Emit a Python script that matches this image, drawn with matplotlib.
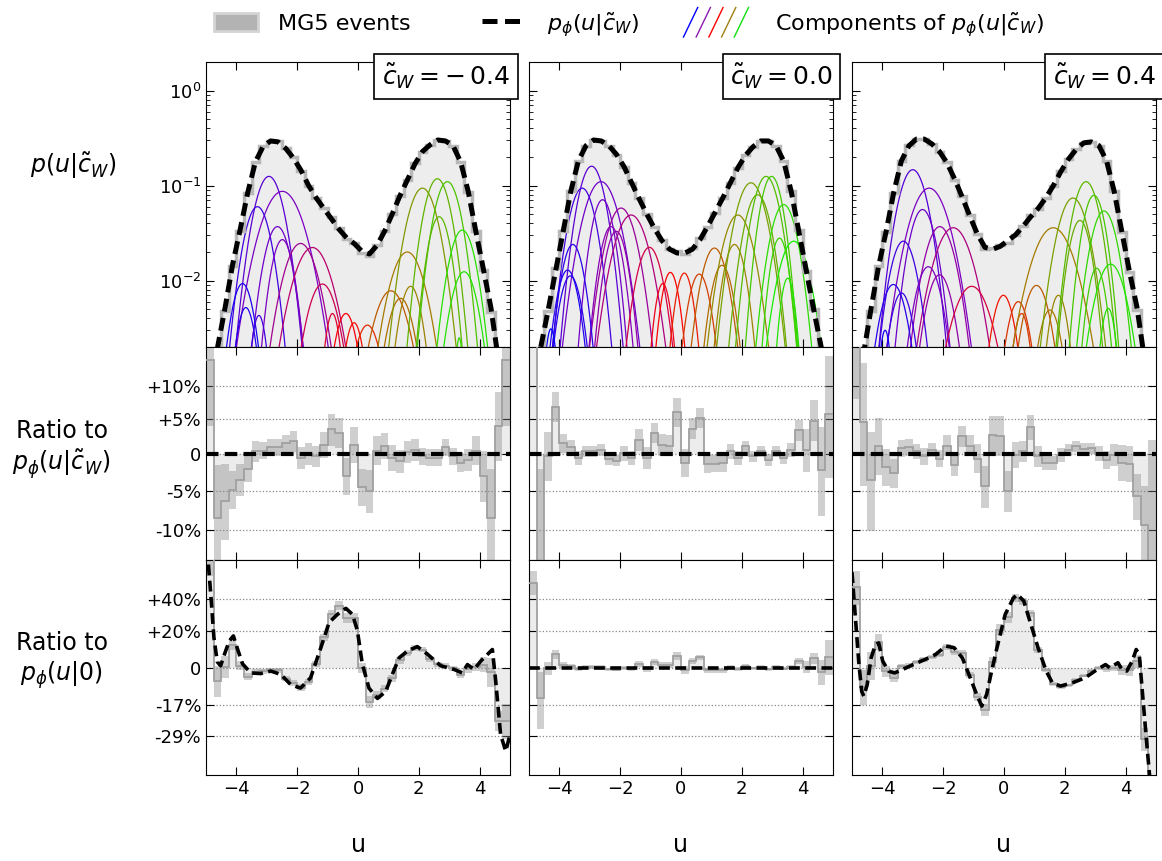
import numpy as np
import matplotlib
matplotlib.use("Agg")
import matplotlib.pyplot as plt
from matplotlib.colors import LinearSegmentedColormap, Normalize
from matplotlib.legend_handler import HandlerBase
from matplotlib.lines import Line2D
from matplotlib.patches import Patch
from matplotlib.ticker import LogLocator, NullLocator, NullFormatter

# ---------------- data ----------------
bin_edges = np.linspace(-5, 5, 41)
bin_centres = 0.5 * (bin_edges[1:] + bin_edges[:-1])

panel_labels = [r"$\tilde{c}_W = {-\,0.4}$", r"$\tilde{c}_W = 0.0$", r"$\tilde{c}_W = 0.4$"]

# log10 of the model density p_phi(u|c) at the bin centres
logp_m04 = [-2.92, -2.71, -2.29, -1.83, -1.46, -1.07, -0.75, -0.59, -0.53, -0.54,
            -0.61, -0.71, -0.84, -1.00, -1.13, -1.24, -1.35, -1.46, -1.55, -1.61,
            -1.69, -1.72, -1.63, -1.48, -1.30, -1.11, -0.94, -0.77, -0.64, -0.57,
            -0.52, -0.53, -0.58, -0.75, -1.06, -1.48, -1.88, -2.29, -2.85, -3.27]
logp_0 = [-3.10, -2.72, -2.32, -1.90, -1.48, -1.06, -0.74, -0.58, -0.52, -0.53,
          -0.58, -0.67, -0.80, -0.97, -1.14, -1.30, -1.45, -1.58, -1.67, -1.71,
          -1.71, -1.67, -1.57, -1.43, -1.28, -1.13, -0.97, -0.81, -0.68, -0.59,
          -0.53, -0.53, -0.58, -0.74, -1.06, -1.48, -1.90, -2.32, -2.72, -3.10]
logp_p04 = [-3.00, -2.78, -2.30, -1.85, -1.48, -1.07, -0.74, -0.58, -0.51, -0.51,
            -0.56, -0.64, -0.76, -0.93, -1.12, -1.32, -1.51, -1.65, -1.67, -1.64,
            -1.58, -1.52, -1.43, -1.33, -1.24, -1.13, -1.00, -0.85, -0.72, -0.62,
            -0.55, -0.54, -0.58, -0.74, -1.06, -1.48, -1.90, -2.28, -2.83, -3.37]

# MG5 events / model, per bin, in percent, and the error band half width
mg5_pct_m04 = [14, -8.5, -6.3, -4.8, -3.5, -2.0, 0.4, 0.5, 1.0, 1.0,
               1.5, 1.8, -0.5, 0.0, -0.3, 1.3, 3.5, 3.0, -3.0, 1.3,
               -4.5, -5.0, 0.5, 1.2, -0.5, -1.0, 0.3, 0.6, -0.3, -0.5,
               -0.5, 1.0, -0.3, -1.2, -0.8, 0.5, -3.0, -8.5, 4.0, 14]
mg5_err_m04 = [10, 7, 5, 2.5, 2.2, 1.8, 1.5, 1.2, 1.2, 1.2,
               1.2, 1.5, 1.5, 1.5, 1.5, 1.8, 2.3, 2.2, 2.5, 2.5,
               2.5, 2.8, 2.0, 1.8, 1.8, 1.6, 1.5, 1.5, 1.2, 1.2,
               1.2, 1.2, 1.2, 1.3, 1.5, 2.0, 3.5, 6.5, 5.0, 10]
mg5_pct_0 = [52, -14, -0.3, 6.8, 1.5, 1.0, -0.5, 0.4, 0.4, 0.6,
             -0.7, -0.9, 0.1, -0.5, 2.0, -0.5, 3.0, 1.3, 1.2, 6.0,
             -1.2, 3.6, 5.2, -1.3, -1.3, -1.2, 0.4, -0.5, 1.1, -0.3,
             0.4, -0.8, 0.4, -0.5, 0.6, 3.4, 0.6, 4.8, -2.2, 5.7]
mg5_err_0 = [9, 12, 3.4, 2.2, 1.4, 1.0, 1.0, 0.8, 0.8, 0.8,
             0.8, 0.8, 1.0, 1.0, 1.5, 1.5, 1.5, 1.5, 1.5, 2.2,
             1.9, 1.5, 1.5, 1.3, 1.2, 1.2, 1.0, 1.0, 0.8, 0.8,
             0.8, 0.8, 0.8, 0.8, 1.0, 1.5, 3.0, 3.0, 6.0, 9.0]
mg5_pct_p04 = [18, 4.6, -3.5, 1.1, -1.8, -2.6, 0.8, 1.0, 0.4, -0.3,
               0.6, -0.6, 1.2, -1.5, 2.5, 1.2, -0.6, -4.4, 2.7, 2.6,
               -5.0, -0.1, 0.4, 3.8, -0.3, -1.2, -1.2, -0.1, 0.6, 1.1,
               0.7, 0.8, 0.1, -0.8, -0.1, -1.2, -1.3, -5.7, -9.4, -14]
mg5_err_p04 = [10, 9, 6.7, 4, 2.5, 2, 1.2, 1.2, 1.0, 1.2,
               1.0, 1.2, 1.5, 1.5, 1.5, 1.5, 2.0, 2.8, 2.8, 2.8,
               2.7, 1.8, 1.5, 1.8, 1.5, 1.0, 1.0, 1.0, 0.8, 0.8,
               0.8, 0.8, 1.0, 1.2, 1.5, 2.5, 2.5, 3.0, 5.0, 16]

# model ratio p_phi(u|c) / p_phi(u|0) (dashed curves of the bottom row)
u_ratio_m04 = [-5.0, -4.93, -4.82, -4.74, -4.63, -4.52, -4.39, -4.24, -4.10, -3.97,
               -3.80, -3.53, -3.20, -2.87, -2.54, -2.21, -1.89, -1.56, -1.23, -0.95,
               -0.68, -0.40, -0.18, -0.02, 0.14, 0.36, 0.64, 0.91, 1.13, 1.35,
               1.62, 1.95, 2.28, 2.72, 3.16, 3.43, 3.60, 3.82, 4.04, 4.42,
               4.53, 4.69, 4.86, 5.0]
ratio_m04 = [1.95, 1.69, 1.37, 1.16, 1.03, 1.01, 1.07, 1.14, 1.17, 1.10,
             1.02, 0.975, 0.972, 0.984, 0.968, 0.92, 0.905, 0.952, 1.10, 1.25,
             1.30, 1.34, 1.30, 1.20, 1.02, 0.905, 0.86, 0.89, 0.968, 1.05,
             1.085, 1.11, 1.07, 1.01, 0.992, 0.975, 1.016, 0.992, 1.034, 1.094,
             0.936, 0.72, 0.663, 0.72]
u_ratio_p04 = [-5.0, -4.88, -4.77, -4.68, -4.61, -4.50, -4.37, -4.23, -4.12, -3.99,
               -3.80, -3.60, -3.33, -2.99, -2.59, -2.25, -1.91, -1.64, -1.37, -1.11,
               -0.90, -0.73, -0.57, -0.43, -0.23, 0.04, 0.31, 0.44, 0.65, 0.85,
               1.12, 1.39, 1.59, 1.86, 2.26, 2.67, 3.07, 3.34, 3.48, 3.75,
               3.88, 4.04, 4.22, 4.35, 4.45, 4.56, 4.69, 4.82, 5.0]
ratio_p04 = [1.60, 1.26, 1.016, 0.89, 0.87, 0.92, 1.05, 1.12, 1.13, 1.034,
             0.984, 0.975, 0.992, 1.016, 1.042, 1.068, 1.113, 1.104, 1.05, 0.952,
             0.877, 0.828, 0.877, 0.968, 1.104, 1.30, 1.41, 1.435, 1.39, 1.26,
             1.104, 0.984, 0.929, 0.914, 0.929, 0.952, 0.992, 1.016, 1.0, 1.025,
             0.992, 0.984, 1.034, 1.094, 1.068, 0.877, 0.697, 0.56, 0.42]

# gaussian components of the mixture: centre, width, peak height
comp_mu_m04 = [-2.93, -2.49, -3.31, -2.65, -2.49, -1.89, -1.50, -3.80, -3.69, -3.26, -1.17, -0.84, -0.40,
               -0.13, 0.31, 1.08, 1.40, 1.62, 1.73, 2.12, 2.61, 2.94, 2.67, 3.43, 3.49, 3.33]
comp_sig_m04 = [0.38, 0.55, 0.35, 0.35, 0.30, 0.45, 0.50, 0.30, 0.25, 0.20, 0.40, 0.20, 0.30,
                0.25, 0.35, 0.45, 0.35, 0.45, 0.30, 0.40, 0.35, 0.35, 0.30, 0.35, 0.35, 0.10]
comp_pk_m04 = [0.125, 0.087, 0.060, 0.037, 0.027, 0.0246, 0.0223, 0.0093, 0.0052, 0.0043, 0.0092, 0.0045, 0.0045,
               0.0036, 0.0034, 0.0078, 0.0065, 0.020, 0.0087, 0.094, 0.118, 0.110, 0.047, 0.034, 0.0124, 0.0025]
comp_mu_0 = [-2.94, -2.63, -3.25, -2.58, -1.97, -1.64, -2.30, -2.13, -3.56, -3.73, -3.64, -4.28, -1.04, -0.60, -0.35,
             0.11, 0.60, 1.10, 1.35, 1.76, 1.87, 2.30, 2.52, 2.80, 2.98, 3.38, 3.71, 3.24, 3.51]
comp_sig_0 = [0.35, 0.45, 0.35, 0.30, 0.40, 0.45, 0.30, 0.30, 0.30, 0.30, 0.30, 0.15, 0.35, 0.22, 0.25,
              0.25, 0.30, 0.35, 0.30, 0.30, 0.40, 0.40, 0.35, 0.35, 0.30, 0.35, 0.40, 0.25, 0.20]
comp_pk_0 = [0.16, 0.110, 0.094, 0.071, 0.058, 0.049, 0.037, 0.033, 0.024, 0.0129, 0.0112, 0.0031, 0.0224, 0.0093, 0.0122,
             0.012, 0.0117, 0.022, 0.0145, 0.024, 0.049, 0.107, 0.080, 0.125, 0.125, 0.063, 0.026, 0.028, 0.0106]
comp_mu_p04 = [-3.00, -2.46, -2.68, -2.11, -1.67, -3.31, -2.49, -2.12, -3.64, -3.37, -3.91, -1.06, -0.02, 0.47,
               0.58, 1.07, 1.51, 1.79, 1.62, 2.27, 2.50, 2.70, 2.96, 3.29, 3.51, 3.05, 3.43]
comp_sig_p04 = [0.38, 0.50, 0.35, 0.40, 0.50, 0.35, 0.35, 0.35, 0.35, 0.30, 0.15, 0.50, 0.30, 0.30,
                0.22, 0.35, 0.30, 0.25, 0.55, 0.40, 0.30, 0.35, 0.30, 0.35, 0.40, 0.25, 0.20]
comp_pk_p04 = [0.147, 0.094, 0.056, 0.037, 0.036, 0.026, 0.014, 0.0115, 0.0091, 0.0074, 0.003, 0.0087, 0.0070, 0.006,
               0.0045, 0.0089, 0.0049, 0.0070, 0.036, 0.074, 0.043, 0.110, 0.079, 0.054, 0.0149, 0.0135, 0.0051]

legend_colors = ["blue", "#8a1ab0", "red", "#a08010", "#10e010"]

# ---------------- plotting ----------------
panels = [
    (logp_m04, mg5_pct_m04, mg5_err_m04, (u_ratio_m04, ratio_m04), (comp_mu_m04, comp_sig_m04, comp_pk_m04)),
    (logp_0, mg5_pct_0, mg5_err_0, None, (comp_mu_0, comp_sig_0, comp_pk_0)),
    (logp_p04, mg5_pct_p04, mg5_err_p04, (u_ratio_p04, ratio_p04), (comp_mu_p04, comp_sig_p04, comp_pk_p04)),
]

comp_cmap = LinearSegmentedColormap.from_list(
    "comp", [(0, "blue"), (0.22, "#8000c0"), (0.47, "red"), (0.72, "#a08000"), (1, "#00ff00")])
comp_norm = Normalize(-4.2, 4.0)
u_fine = np.linspace(-5, 5, 1001)
dash = (0, (3, 1.5))

fig = plt.figure(figsize=(11.62, 8.61), dpi=100)
gs = fig.add_gridspec(3, 3, left=0.1773, right=0.9948, top=0.928, bottom=0.0999,
                      wspace=0.0625, hspace=0, height_ratios=[285, 213, 215])

for j, (logp, pct, err, model_ratio, comps) in enumerate(panels):
    p_model = 10 ** np.array(logp)
    r = 1 + np.array(pct) / 100
    e = np.array(err) / 100
    scale = 10 ** (np.array(logp) - np.array(logp_0))

    ax_t = fig.add_subplot(gs[0, j])
    ax_m = fig.add_subplot(gs[1, j])
    ax_b = fig.add_subplot(gs[2, j])

    # top: densities
    mg5 = p_model * r
    ax_t.stairs(mg5, bin_edges, baseline=1e-5, fill=True, color="#ededed", zorder=1)
    for mu, sg, pk in zip(*comps):
        ax_t.plot(u_fine, pk * np.exp(-0.5 * ((u_fine - mu) / sg) ** 2),
                  color=comp_cmap(comp_norm(mu)), lw=0.9, zorder=2)
    ax_t.stairs(mg5, bin_edges, baseline=None, color="#b8b8b8", lw=2.5, zorder=3)
    ax_t.plot(bin_centres, p_model, color="black", ls=(0, (2.6, 1.3)), lw=3.6, zorder=4)
    ax_t.set_yscale("log")
    ax_t.set_ylim(0.002, 2.0)
    ax_t.yaxis.set_major_locator(LogLocator(base=10))
    ax_t.yaxis.set_minor_locator(LogLocator(base=10, subs=np.arange(2, 10)))
    ax_t.yaxis.set_minor_formatter(NullFormatter())
    ax_t.text(1.0, 1.0, panel_labels[j], transform=ax_t.transAxes, ha="right", va="top",
              fontsize=18, zorder=10, clip_on=False,
              bbox=dict(boxstyle="square,pad=0.3", fc="white", ec="black", lw=1.2))

    # middle: ratio to the model at the same c
    ax_m.stairs(r, bin_edges, baseline=1.0, fill=True, color="#ececec", zorder=1)
    ax_m.stairs(r + e, bin_edges, baseline=r - e, fill=True, color="#888888", alpha=0.4, lw=0, zorder=2)
    ax_m.stairs(r, bin_edges, baseline=None, color="#a0a0a0", lw=1.3, zorder=3)
    ax_m.axhline(1.0, color="black", ls=dash, lw=3, zorder=4)
    ax_m.set_yscale("log")
    ax_m.set_ylim(0.863, 1.161)
    ax_m.yaxis.set_minor_locator(NullLocator())
    ax_m.set_yticks([0.9, 0.95, 1.0, 1.05, 1.1])
    ax_m.set_yticklabels(["-10%", "-5%", "0", "+5%", "+10%"])

    # bottom: ratio to the c=0 model
    r0 = r * scale
    ax_b.stairs(r0, bin_edges, baseline=1.0, fill=True, color="#ececec", zorder=1)
    ax_b.stairs((r + e) * scale, bin_edges, baseline=(r - e) * scale, fill=True,
                color="#888888", alpha=0.4, lw=0, zorder=2)
    ax_b.stairs(r0, bin_edges, baseline=None, color="#a0a0a0", lw=1.3, zorder=3)
    if model_ratio is None:
        ax_b.axhline(1.0, color="black", ls=dash, lw=2.6, zorder=4)
    else:
        ax_b.plot(model_ratio[0], model_ratio[1], color="black", ls=dash, lw=2.6, zorder=4)
    ax_b.set_yscale("log")
    ax_b.set_ylim(0.59, 1.70)
    ax_b.yaxis.set_minor_locator(NullLocator())
    ax_b.set_yticks([1 / 1.4, 1 / 1.2, 1.0, 1.2, 1.4])
    ax_b.set_yticklabels(["-29%", "-17%", "0", "+20%", "+40%"])
    ax_b.set_xlabel("u", fontsize=17, labelpad=25)

    for ax in (ax_t, ax_m, ax_b):
        ax.set_xlim(-5, 5)
        ax.set_xticks([-4, -2, 0, 2, 4])
        ax.tick_params(which="both", direction="in", top=True, right=True, labelsize=13)
        ax.tick_params(which="major", length=6)
        ax.tick_params(which="minor", length=3)
        if j > 0:
            ax.tick_params(labelleft=False)
    for ax in (ax_m, ax_b):
        ax.grid(axis="y", ls=":", color="#888888", lw=0.9)
    ax_t.tick_params(labelbottom=False)
    ax_m.tick_params(labelbottom=False)

# row labels
fig.text(0.063, 0.808, r"$p(u|\tilde{c}_W)$", fontsize=17, ha="center", va="center")
fig.text(0.053, 0.477, "Ratio to\n" + r"$p_\phi(u|\tilde{c}_W)$", fontsize=17,
         ha="center", va="center", multialignment="center")
fig.text(0.053, 0.232, "Ratio to\n" + r"$p_\phi(u|0)$", fontsize=17,
         ha="center", va="center", multialignment="center")


# legend
class ComponentsKey:
    pass


class ComponentsHandler(HandlerBase):
    def create_artists(self, legend, orig_handle, xdescent, ydescent, width, height, fontsize, trans):
        lines = []
        n = len(legend_colors)
        left = -xdescent - 0.6 * width
        span = 1.6 * width
        for i, col in enumerate(legend_colors):
            x0 = left + span * i / (n + 0.6)
            ln = Line2D([x0, x0 + span * 0.2], [-ydescent - 0.3 * height, -ydescent + 1.3 * height],
                        color=col, lw=1.0)
            ln.set_transform(trans)
            lines.append(ln)
        return lines


handles = [Patch(facecolor="#b3b3b3", edgecolor="#d4d4d4", lw=2),
           Line2D([], [], color="black", ls=dash, lw=3.6),
           ComponentsKey()]
labels = ["MG5 events", r"$p_\phi(u|\tilde{c}_W)$", r"Components of $p_\phi(u|\tilde{c}_W)$"]
fig.legend(handles, labels, loc="center", bbox_to_anchor=(0.541, 0.972), ncol=3, frameon=False,
           fontsize=16, handlelength=2.0, handleheight=0.9, columnspacing=3.2, handletextpad=0.9,
           handler_map={ComponentsKey: ComponentsHandler()})

fig.savefig("out.png", dpi=100)
